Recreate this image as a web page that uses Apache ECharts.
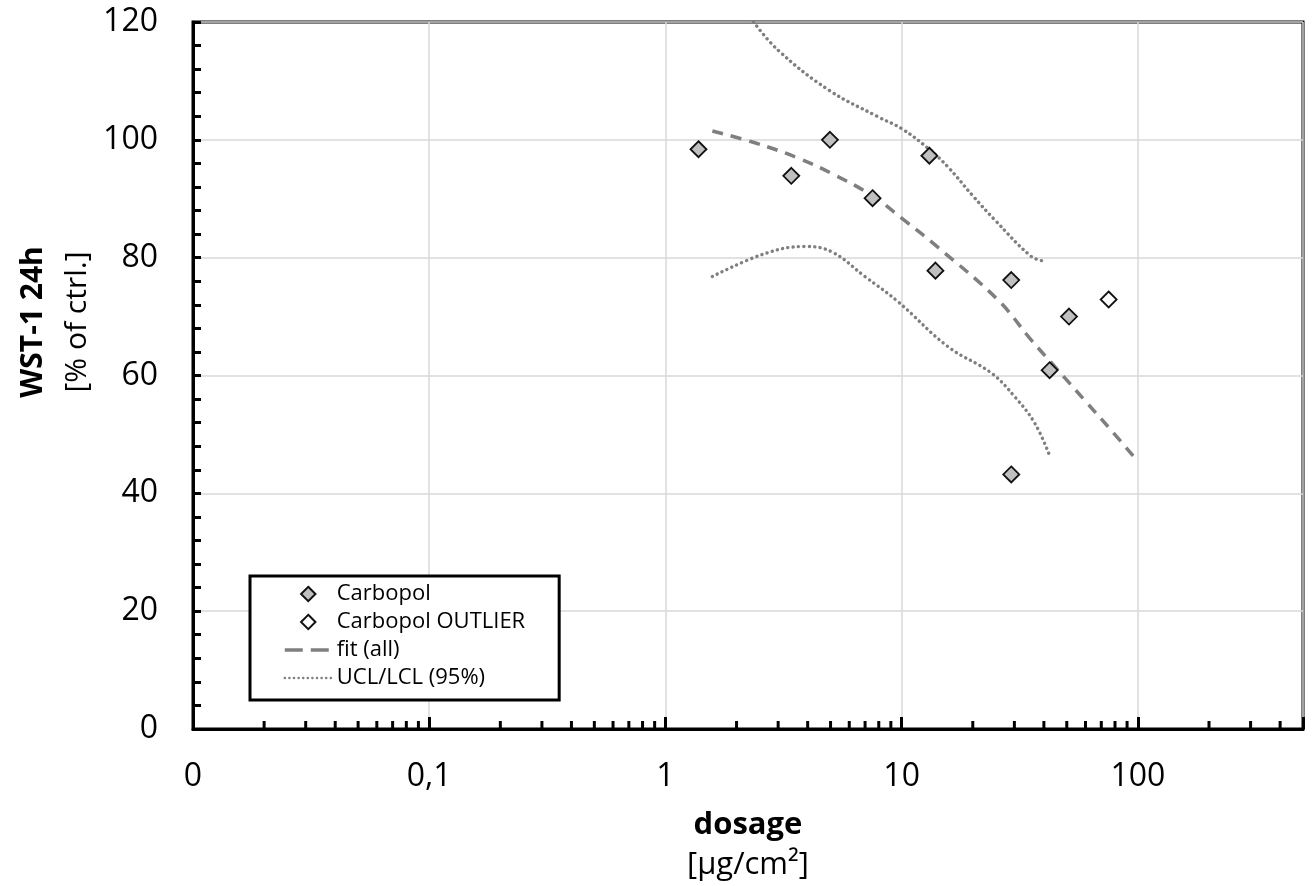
<!DOCTYPE html>
<html>
<head>
<meta charset="utf-8">
<script src="https://cdn.jsdelivr.net/npm/echarts@6/dist/echarts.min.js"></script>
<style>
html,body{margin:0;padding:0;background:#fff;}
#chart{width:1314px;height:886px;}
</style>
</head>
<body>
<div id="chart"></div>
<script>
// ---- data ----
const carbopolX = [1.38, 3.41, 4.97, 7.53, 13.1, 13.9, 29.1, 42.3, 51.1, 29.1];
const carbopolY = [98.4, 93.9, 100.0, 90.1, 97.3, 77.8, 76.2, 60.9, 70.0, 43.2];
const outlierX = [75.2];
const outlierY = [72.9];
const fitX = [1.58, 2.39, 3.65, 5.05, 7.45, 10, 14.3, 25.6, 35.4, 44.5, 59.5, 77.1, 100];
const fitY = [101.5, 99.5, 96.9, 94.3, 90.6, 86.7, 81.7, 72.8, 66.0, 61.5, 55.8, 50.7, 45.4];
const uclX = [2.36, 3.0, 4.89, 7.95, 10, 12.9, 15.7, 20, 24.8, 35.4, 40.3];
const uclY = [120, 115.2, 108.5, 103.9, 101.9, 98.6, 95.4, 90.5, 86.4, 80.2, 79.4];
const lclX = [1.58, 2.64, 3.9, 5.05, 6.99, 9.67, 15.7, 24, 30.1, 36.6, 42.4];
const lclY = [76.8, 80.7, 81.9, 81.0, 76.8, 72.5, 64.9, 60.4, 56.4, 51.9, 46.3];
const xTickValues = [0.01, 0.1, 1, 10, 100];
const xTickLabels = ['0', '0,1', '1', '10', '100'];
const xMinorTicks = [0.02,0.03,0.04,0.05,0.06,0.07,0.08,0.09,
                     0.2,0.3,0.4,0.5,0.6,0.7,0.8,0.9,
                     2,3,4,5,6,7,8,9,
                     20,30,40,50,60,70,80,90,
                     200,300,400];
const seriesNames = ['Carbopol', 'Carbopol OUTLIER', 'fit (all)', 'UCL/LCL (95%)'];

const zip = (xs, ys) => xs.map((x, i) => [x, ys[i]]);
const FONT = '"Open Sans", sans-serif';
const GREY = '#7f7f7f';
const FIT_DASH = [11, 8];
const DOT_DASH = [0.1, 5.3];
// legend diamond: small diamond centred in a 47x15 box (moveTo anchors fix the box)
const LEGEND_DIAMOND = 'path://M0,0 M47,15 M23.5,0.3 L30.7,7.5 L23.5,14.7 L16.3,7.5 Z';

const chart = echarts.init(document.getElementById('chart'), null, {renderer: 'canvas'});

function xLabel(v) {
  for (let i = 0; i < xTickValues.length; i++) {
    if (Math.abs(Math.log10(v) - Math.log10(xTickValues[i])) < 1e-6) return xTickLabels[i];
  }
  return '';
}

const option = {
  backgroundColor: '#fff',
  animation: false,
  grid: {
    left: 193, right: 11, top: 22, bottom: 157,
    show: true, borderColor: '#000', borderWidth: 3, backgroundColor: 'transparent'
  },
  xAxis: {
    type: 'log', logBase: 10, min: 0.01, max: 500,
    name: '{b|dosage}\n{n|[µg/cm²]}',
    nameLocation: 'middle', nameGap: 76,
    nameTextStyle: {
      rich: {
        b: {fontFamily: FONT, fontSize: 31, fontWeight: 'bold', color: '#000', lineHeight: 40, align: 'center'},
        n: {fontFamily: FONT, fontSize: 31, color: '#000', lineHeight: 40, align: 'center'}
      }
    },
    axisLine: {show: true, onZero: false, lineStyle: {color: '#000', width: 3}},
    axisTick: {show: true, inside: true, length: 12, lineStyle: {color: '#000', width: 3}},
    minorTick: {show: false},
    axisLabel: {fontFamily: FONT, fontSize: 32, color: '#000', margin: 32, formatter: xLabel,
                showMinLabel: true, showMaxLabel: true, hideOverlap: false},
    splitLine: {show: true, lineStyle: {color: '#d9d9d9', width: 1.5}}
  },
  yAxis: {
    type: 'value', min: 0, max: 120, interval: 20,
    axisLine: {show: true, onZero: false, lineStyle: {color: '#000', width: 3}},
    axisTick: {show: true, inside: true, length: 8, lineStyle: {color: '#000', width: 3}},
    minorTick: {show: true, splitNumber: 5, length: 8, lineStyle: {color: '#000', width: 3}},
    axisLabel: {fontFamily: FONT, fontSize: 32, color: '#000', margin: 35},
    splitLine: {show: true, lineStyle: {color: '#d9d9d9', width: 1.5}}
  },
  legend: {
    orient: 'vertical', left: 250, top: 576,
    data: [
      {name: seriesNames[0], icon: LEGEND_DIAMOND},
      {name: seriesNames[1], icon: LEGEND_DIAMOND},
      {name: seriesNames[2], itemStyle: {opacity: 0}, lineStyle: {width: 3.5, type: [18, 8], color: GREY}},
      {name: seriesNames[3], itemStyle: {opacity: 0}, lineStyle: {width: 2.5, type: [0.1, 4.5], cap: 'round', color: GREY}}
    ],
    backgroundColor: '#fff', borderColor: '#000', borderWidth: 3,
    padding: [7, 34, 11, 33], itemGap: 6, itemWidth: 47, itemHeight: 15,
    textStyle: {fontFamily: FONT, fontSize: 22, color: '#000', lineHeight: 22},
    selectedMode: false
  },
  graphic: [
    {type: 'text', x: 33, y: 322, rotation: Math.PI / 2,
     style: {text: 'WST-1 24h', fontFamily: FONT, fontSize: 30, fontWeight: 'bold', fill: '#000',
             align: 'center', verticalAlign: 'middle'}},
    {type: 'text', x: 77, y: 322, rotation: Math.PI / 2,
     style: {text: '[% of ctrl.]', fontFamily: FONT, fontSize: 30, fill: '#000',
             align: 'center', verticalAlign: 'middle'}}
  ],
  series: [
    {
      type: 'custom', silent: true, clip: false, z: 5,
      data: xMinorTicks.map(v => [v, 0]),
      renderItem: function (params, api) {
        const p = api.coord([api.value(0), 0]);
        return {type: 'line', shape: {x1: p[0], y1: p[1], x2: p[0], y2: p[1] - 8},
                style: {stroke: '#000', lineWidth: 3}};
      }
    },
    {
      name: 'fit (all)', type: 'line', data: zip(fitX, fitY),
      smooth: 0.4, symbol: 'none', z: 3,
      lineStyle: {color: GREY, width: 3.5, type: FIT_DASH},
      itemStyle: {color: GREY}
    },
    {
      name: 'UCL/LCL (95%)', type: 'line', data: zip(uclX, uclY),
      smooth: 0.4, symbol: 'none', z: 3,
      lineStyle: {color: GREY, width: 3.4, type: DOT_DASH, cap: 'round'},
      itemStyle: {color: GREY}
    },
    {
      name: 'UCL/LCL (95%)', type: 'line', data: zip(lclX, lclY),
      smooth: 0.4, symbol: 'none', z: 3,
      lineStyle: {color: GREY, width: 3.4, type: DOT_DASH, cap: 'round'},
      itemStyle: {color: GREY}
    },
    {
      name: 'Carbopol', type: 'scatter', data: zip(carbopolX, carbopolY),
      symbol: 'diamond', symbolSize: 16, z: 4,
      itemStyle: {color: '#c0c0c0', borderColor: '#111', borderWidth: 1.8, opacity: 1}
    },
    {
      name: 'Carbopol OUTLIER', type: 'scatter', data: zip(outlierX, outlierY),
      symbol: 'diamond', symbolSize: 16, z: 4,
      itemStyle: {color: '#ffffff', borderColor: '#111', borderWidth: 1.8, opacity: 1}
    }
  ]
};
chart.setOption(option);
</script>
</body>
</html>
